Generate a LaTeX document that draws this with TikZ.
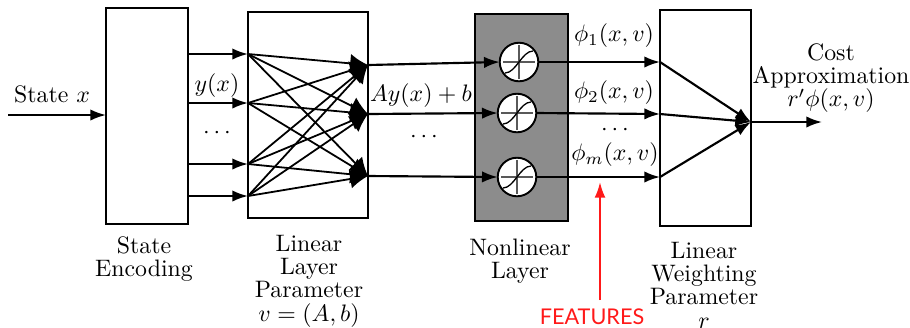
\documentclass[tikz,border=0pt]{standalone}
\usepackage{fontspec}
\newfontfamily\featfont{Lato}
\usetikzlibrary{arrows.meta,calc}
\tikzset{
  x=0.42pt,y=-0.42pt,
  every node/.style={inner sep=0pt,outer sep=0pt},
  layerbox/.style={draw=black,line width=0.8pt,inner sep=0pt},
  wire/.style={line width=0.9pt,-{Latex[length=6.6pt,width=4.8pt]}},
  thinwire/.style={line width=0.75pt,-{Latex[length=7.5pt,width=8pt]}},
  unit/.style={circle,draw=black,fill=white,line width=0.8pt,minimum size=16.2pt},
  caption/.style={align=center,font=\fontsize{10}{9.8}\selectfont},
  lbl/.style={font=\fontsize{10}{11}\selectfont},
}
\newcommand{\sigmoid}[1]{%
  \draw[line width=0.55pt,black!65] ($(#1)+(-16,0)$) -- ($(#1)+(16,0)$);
  \draw[line width=0.55pt,black!65] ($(#1)+(0,-17)$) -- ($(#1)+(0,17)$);
  \draw[line width=0.55pt] ($(#1)+(-14,11)$) .. controls ($(#1)+(-3,11)$) and ($(#1)+(3,-11)$) .. ($(#1)+(14,-11)$);
}
\begin{document}
\begin{tikzpicture}
\useasboundingbox (0,0) rectangle (910,327);
% boxes
\node[layerbox,minimum width=34.4pt,minimum height=90.7pt] (enc) at (147,116) {};
\node[layerbox,minimum width=50.4pt,minimum height=86.5pt] (lin) at (308,115) {};
\node[layerbox,fill=black!45,minimum width=39pt,minimum height=86.9pt] (non) at (521.5,117.5) {};
\node[layerbox,minimum width=38.2pt,minimum height=90.7pt] (wgt) at (705.5,118) {};
% free coordinates
\coordinate (st) at (8,115);
\coordinate (stE) at (106,115);
\coordinate (e1) at (188,54); \coordinate (e2) at (188,103);
\coordinate (e3) at (188,164); \coordinate (e4) at (188,196);
\coordinate (i1) at (248,54); \coordinate (i2) at (248,103);
\coordinate (i3) at (248,164); \coordinate (i4) at (248,196);
\coordinate (o1) at (368,65); \coordinate (o2) at (368,114); \coordinate (o3) at (368,176);
\coordinate (w1) at (660,62); \coordinate (w2) at (660,114); \coordinate (w3) at (660,177);
\coordinate (sum) at (751,122);
\coordinate (out) at (822,122);
\coordinate (rs) at (600,300);
\coordinate (re) at (600,182);
% units
\node[unit] (u1) at (519,62) {};
\node[unit] (u2) at (517,113) {};
\node[unit] (u3) at (517,177) {};
\sigmoid{u1}\sigmoid{u2}\sigmoid{u3}
% wires
\draw[wire] (st) -- (stE);
\foreach \a/\b in {e1/i1,e2/i2,e3/i3,e4/i4} \draw[wire] (\a) -- (\b);
\foreach \a in {i1,i2,i3,i4} \foreach \b in {o1,o2,o3} \draw[thinwire] (\a) -- (\b);
\draw[wire] (o1) -- (u1.west);
\draw[wire] (o2) -- (u2.west);
\draw[wire] (o3) -- (u3.west);
\draw[wire] (u1.east) -- (w1);
\draw[wire] (u2.east) -- (w2);
\draw[wire] (u3.east) -- (w3);
\foreach \a in {w1,w2,w3} \draw[wire] (\a) -- (sum);
\draw[wire] (sum) -- (out);
\draw[line width=0.9pt,red!90!white,-{Latex[length=6.6pt,width=4.6pt]}] (rs) -- (re);
% labels
\node[lbl] (tState) at (52,94) {State $x$};
\node[lbl] (ty) at (217,86) {$y(x)$};
\node[lbl] (td1) at (217,133) {$\cdots$};
\node[lbl] (tAy) at (421,96) {$Ay(x)+b$};
\node[lbl] (td2) at (424,137) {$\cdots$};
\node[lbl] (tp1) at (614,36) {$\phi_1(x,v)$};
\node[lbl] (tp2) at (614,93) {$\phi_2(x,v)$};
\node[lbl] (td3) at (615,130) {$\cdots$};
\node[lbl] (tpm) at (615,155) {$\phi_m(x,v)$};
\node[caption] (tCost) at (831,78) {Cost\\Approximation\\$r'\phi(x,v)$};
\node[caption] (tEnc) at (144,259) {State\\Encoding};
\node[caption] (tLin) at (309,281) {Linear\\Layer\\Parameter\\$v=(A,b)$};
\node[caption] (tNon) at (520,261) {Nonlinear\\Layer};
\node[caption] (tWgt) at (704,285) {Linear\\Weighting\\Parameter\\$r$};
\node[font=\featfont\fontsize{9.1}{10}\selectfont,text=red!90!white] (tF) at (592,317) {FEATURES};
\end{tikzpicture}
\end{document}
